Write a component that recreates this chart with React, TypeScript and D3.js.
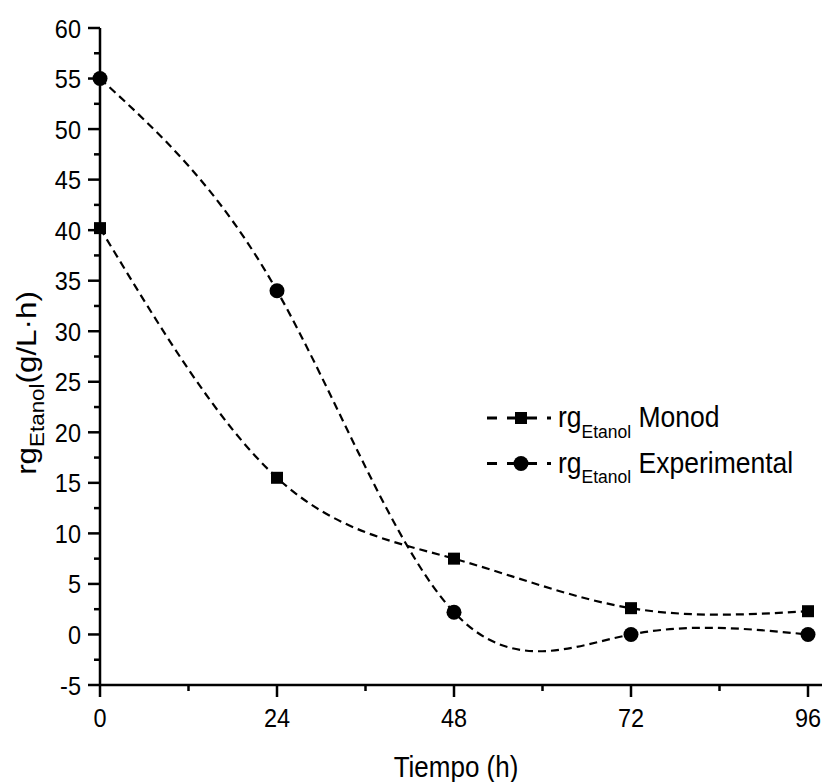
import React from "react";
import * as d3 from "d3";

const hours = [0, 24, 48, 72, 96];
const monod = [40.2, 15.5, 7.5, 2.6, 2.3];
const experimental = [55, 34, 2.2, 0, 0];
const xTicks = [0, 24, 48, 72, 96];
const yTicks = [-5, 0, 5, 10, 15, 20, 25, 30, 35, 40, 45, 50, 55, 60];
const legendItems = [
  { label: "Monod", shape: "square" },
  { label: "Experimental", shape: "circle" },
];

const W = 823;
const H = 782;
const FONT = "'Liberation Sans', Arial, sans-serif";
// glyphs are drawn slightly taller than wide
const SY = 1.12;

export default function App() {
  const x = d3.scaleLinear().domain([0, 96]).range([100, 808]);
  const y = d3.scaleLinear().domain([-5, 60]).range([685, 28]);

  const line = d3
    .line<[number, number]>()
    .x((d) => x(d[0]))
    .y((d) => y(d[1]))
    .curve(d3.curveNatural);

  const monodPts = hours.map((h, i) => [h, monod[i]] as [number, number]);
  const expPts = hours.map((h, i) => [h, experimental[i]] as [number, number]);

  const minorX = d3.range(12, 97, 24);
  const minorY = d3.range(-2.5, 60, 5);

  const dash = "8,5";

  return (
    <svg
      width={W}
      height={H}
      style={{ position: "absolute", left: 0, top: 0, background: "#fff" }}
      fontFamily={FONT}
    >
      <rect width={W} height={H} fill="#fff" />
      {/* curves */}
      <path d={line(expPts) ?? ""} fill="none" stroke="#000" strokeWidth={2.2} strokeDasharray={dash} />
      <path d={line(monodPts) ?? ""} fill="none" stroke="#000" strokeWidth={2.2} strokeDasharray={dash} />
      {/* markers */}
      {monodPts.map((p, i) => (
        <rect key={"m" + i} x={x(p[0]) - 6} y={y(p[1]) - 6} width={12} height={12} fill="#000" />
      ))}
      {expPts.map((p, i) => (
        <circle key={"e" + i} cx={x(p[0])} cy={y(p[1])} r={7.5} fill="#000" />
      ))}

      {/* axes */}
      <line x1={100} x2={100} y1={y(60)} y2={686} stroke="#000" strokeWidth={2.5} />
      <line x1={99} x2={822} y1={685} y2={685} stroke="#000" strokeWidth={2.5} />
      {yTicks.map((t) => (
        <g key={"yt" + t}>
          <line x1={88} x2={100} y1={y(t)} y2={y(t)} stroke="#000" strokeWidth={2.5} />
          <text
            transform={`translate(81,${y(t) + 9.5}) scale(1,${SY})`}
            textAnchor="end"
            fontSize={23.5}
          >
            {t}
          </text>
        </g>
      ))}
      {minorY.map((t) => (
        <line key={"ym" + t} x1={94} x2={100} y1={y(t)} y2={y(t)} stroke="#000" strokeWidth={2.5} />
      ))}
      {xTicks.map((t) => (
        <g key={"xt" + t}>
          <line x1={x(t)} x2={x(t)} y1={685} y2={697} stroke="#000" strokeWidth={2.5} />
          <text transform={`translate(${x(t)},727) scale(1,${SY})`} textAnchor="middle" fontSize={23.5}>
            {t}
          </text>
        </g>
      ))}
      {minorX.map((t) => (
        <line key={"xm" + t} x1={x(t)} x2={x(t)} y1={685} y2={691} stroke="#000" strokeWidth={2.5} />
      ))}

      {/* axis titles */}
      <text transform={`translate(456,777) scale(1,1.15)`} textAnchor="middle" fontSize={26}>
        Tiempo (h)
      </text>
      <text transform={`translate(36,383) rotate(-90) scale(${SY},1)`} textAnchor="middle" fontSize={28}>
        rg
        <tspan fontSize={20} dy={8}>Etanol</tspan>
        <tspan dy={-8}>(g/L·h)</tspan>
      </text>

      {/* legend */}
      {legendItems.map((it, i) => {
        const yy = 418 + i * 45.5;
        return (
          <g key={it.label}>
            <line
              x1={487}
              x2={551}
              y1={yy}
              y2={yy}
              stroke="#000"
              strokeWidth={3}
              strokeDasharray="10,10,30,10,4,100"
            />
            {it.shape === "square" ? (
              <rect x={515} y={yy - 6} width={12} height={12} fill="#000" />
            ) : (
              <circle cx={521} cy={yy} r={7.5} fill="#000" />
            )}
            <text transform={`translate(558,${yy + 9}) scale(1,1.08)`} fontSize={26.5}>
              rg
              <tspan fontSize={17.5} dy={10}>Etanol</tspan>
              <tspan dy={-10}> {it.label}</tspan>
            </text>
          </g>
        );
      })}
    </svg>
  );
}
